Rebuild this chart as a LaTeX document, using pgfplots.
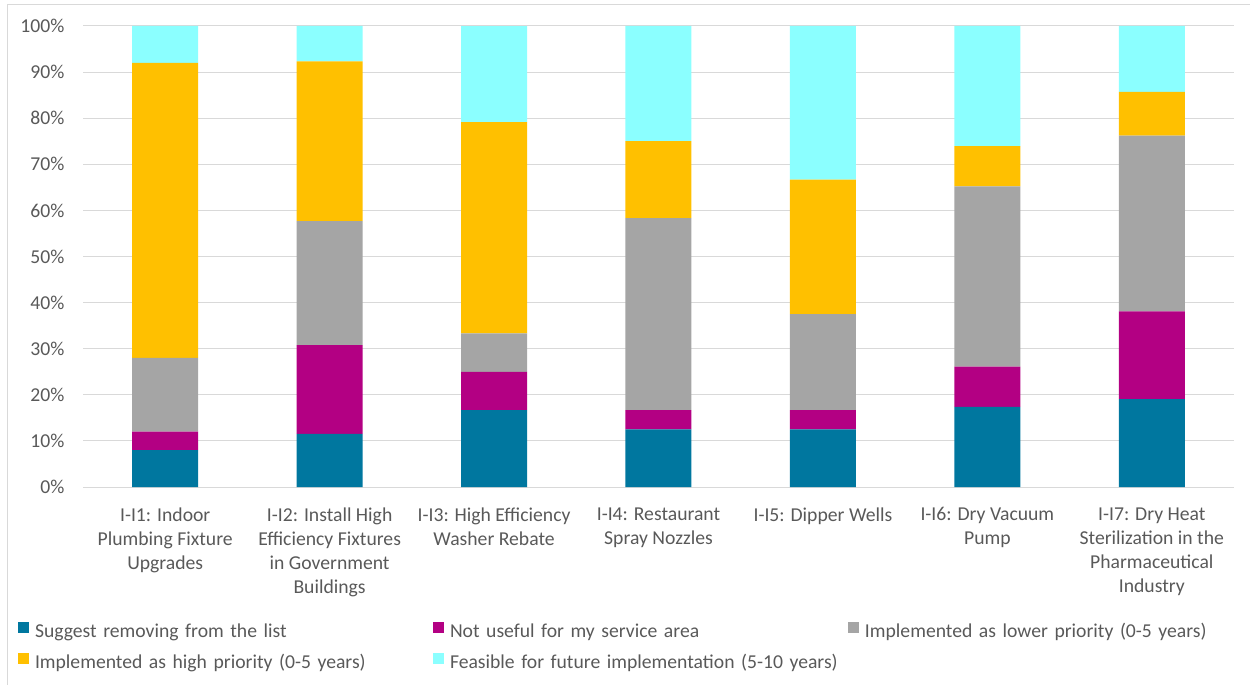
\documentclass[border=0pt]{standalone}
\usepackage{pgfplots}
\pgfplotsset{compat=1.18}
\usepackage{pgfplotstable}
\usepackage{fontspec}
\setmainfont{Carlito}

\definecolor{sBlue}{HTML}{00779F}
\definecolor{sMag}{HTML}{B30083}
\definecolor{sGray}{HTML}{A5A5A5}
\definecolor{sYel}{HTML}{FFC000}
\definecolor{sCyan}{HTML}{8BFFFF}
\definecolor{txt}{HTML}{595959}
\definecolor{grd}{HTML}{D9D9D9}

% Share of responses (%) per measure
\pgfplotstableread{
x  remove  notuseful  lower   high    future
0  8.00    4.00       16.00   64.00   8.00
1  11.54   19.23      26.92   34.62   7.69
2  16.67   8.33       8.33    45.83   20.83
3  12.50   4.17       41.67   16.67   25.00
4  12.50   4.17       20.83   29.17   33.33
5  17.39   8.70       39.13   8.70    26.09
6  19.05   19.05      38.10   9.52    14.29
}\datatable

\begin{document}
\begin{tikzpicture}
\path[use as bounding box] (0,0) rectangle (750pt,410.4pt);
\begin{axis}[
  at={(49.8pt,118.2pt)}, anchor=south west,
  scale only axis, width=690.6pt, height=276.6pt,
  ybar stacked, bar width=39.6pt,
  xmin=-0.5, xmax=6.5, ymin=0, ymax=100,
  xtick={0,...,6},
  xticklabels={
    {I-I1: Indoor\\Plumbing Fixture\\Upgrades},
    {I-I2: Install High\\Efficiency Fixtures\\in Government\\Buildings},
    {I-I3: High Efficiency\\Washer Rebate},
    {I-I4: Restaurant\\Spray Nozzles},
    {I-I5: Dipper Wells},
    {I-I6: Dry Vacuum\\Pump},
    {I-I7: Dry Heat\\Sterilization in the\\Pharmaceutical\\Industry}},
  ytick={0,10,...,100},
  yticklabel={\pgfmathprintnumber{\tick}\%},
  /pgf/number format/assume math mode=true,
  ymajorgrids, grid style={grd, line width=0.6pt},
  axis line style={draw=none},
  major tick length=0pt,
  tick label style={font=\fontsize{11.8}{14.4}\selectfont, text=txt},
  yticklabel style={xshift=-7.6pt},
  xticklabel style={align=center, yshift=-8.8pt},
  legend columns=3,
  legend cell align=left,
  legend style={
    at={(axis description cs:-0.05647,-0.2928)}, anchor=north west,
    draw=none, fill=none, inner sep=0pt,
    font=\fontsize{11.8}{14.4}\selectfont, text=txt,
    nodes={inner sep=0pt, text height=9pt, text depth=3pt},
    row sep=6pt,
    /tikz/every odd column/.append style={column sep=3.4pt},
    /tikz/every even column/.append style={text width=239pt},
  },
  legend image code/.code={\fill[#1] (0pt,-0.3pt) rectangle (6.6pt,6.3pt);},
]
\addplot[fill=sBlue, draw=none] table[x=x, y=remove] {\datatable};
\addlegendentry{Suggest removing from the list}
\addplot[fill=sMag, draw=none] table[x=x, y=notuseful] {\datatable};
\addlegendentry{Not useful for my service area}
\addplot[fill=sGray, draw=none] table[x=x, y=lower] {\datatable};
\addlegendentry{Implemented as lower priority (0-5 years)}
\addplot[fill=sYel, draw=none] table[x=x, y=high] {\datatable};
\addlegendentry{Implemented as high priority (0-5 years)}
\addplot[fill=sCyan, draw=none] table[x=x, y=future] {\datatable};
\addlegendentry{Feasible for future implementation (5-10 years)}
\end{axis}
% chart area frame
\draw[grd, line width=0.6pt] (4.2pt,-10pt) -- (4.2pt,407.4pt) -- (770pt,407.4pt);
\end{tikzpicture}
\end{document}
